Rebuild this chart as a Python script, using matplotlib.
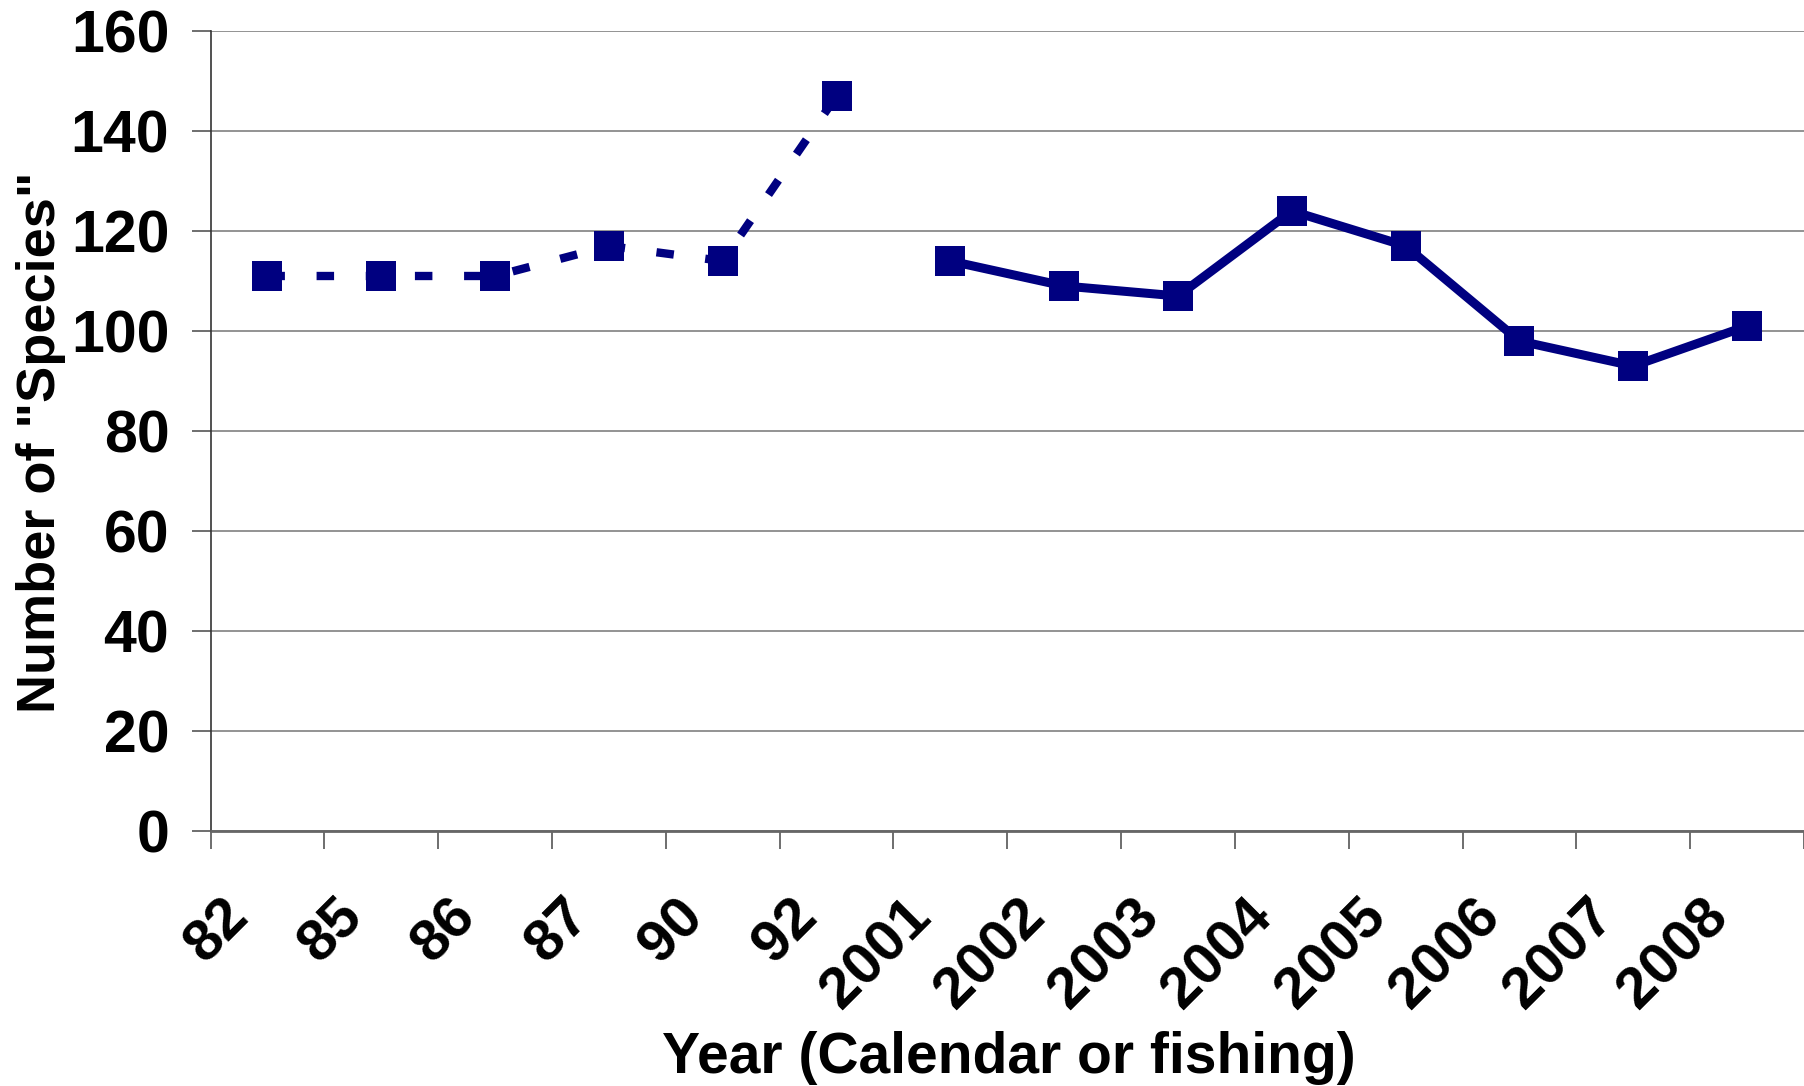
import matplotlib
matplotlib.use("Agg")
import matplotlib.pyplot as plt
import matplotlib.transforms as mtransforms

plt.rcParams['font.family'] = ['Liberation Sans', 'DejaVu Sans']
plt.rcParams['font.weight'] = 'bold'

# survey labels: early surveys (two-digit years) then calendar/fishing years
years = ["82", "85", "86", "87", "90", "92",
         "2001", "2002", "2003", "2004", "2005", "2006", "2007", "2008"]
species_early = [111, 111, 111, 117, 114, 147]
species_recent = [114, 109, 107, 124, 117, 98, 93, 101]
y_ticks = [0, 20, 40, 60, 80, 100, 120, 140, 160]

navy = "#000080"
W, H = 1804, 1086

fig = plt.figure(figsize=(W / 100, H / 100), dpi=100)
ax = fig.add_axes([210.5 / W, 1 - 831 / H, (W - 210.5) / W, 800 / H])

x_early = list(range(len(species_early)))
x_recent = list(range(len(species_early), len(years)))

ax.plot(x_early, species_early, color=navy, lw=6, dashes=(2.1, 3.8),
        dash_capstyle='butt', marker='s', ms=22, mew=0, zorder=3, clip_on=False)
ax.plot(x_recent, species_recent, color=navy, lw=6.5, marker='s', ms=22,
        mew=0, zorder=3, clip_on=False)

ax.set_xlim(-0.5, len(years) - 0.5)
ax.set_ylim(0, 160)

# y axis
ax.set_yticks(y_ticks)
ax.set_yticklabels([str(v) for v in y_ticks])
ax.tick_params(axis='y', length=13.7, width=1.2, color='#555555', pad=16,
               labelsize=42.5)
ax.yaxis.grid(True, color='#808080', lw=1.2)
ax.set_axisbelow(True)

# x axis: tick marks between categories, labels placed under each category
ax.set_xticks([i - 0.5 for i in range(len(years) + 1)])
ax.set_xticklabels([])
ax.tick_params(axis='x', length=12.7, width=1.2, color='#555555')

lbl_trans = ax.get_xaxis_transform() + mtransforms.ScaledTranslation(
    -0.17, -0.88, fig.dpi_scale_trans)
for i, yr in enumerate(years):
    ax.text(i, 0, yr, transform=lbl_trans, rotation=45, rotation_mode='anchor',
            ha='right', va='baseline', fontsize=42, fontweight='bold')

for side in ['top', 'right']:
    ax.spines[side].set_visible(False)
ax.spines['left'].set_color('#333333')
ax.spines['left'].set_linewidth(1.2)
ax.spines['bottom'].set_color('#666666')
ax.spines['bottom'].set_linewidth(2)

fig.text(1008.5 / W, 1 - 1073 / H, "Year (Calendar or fishing)", ha='center',
         va='baseline', fontsize=41, fontweight='bold')
fig.text(55 / W, 1 - 442.5 / H, 'Number of "Species"', rotation=90,
         rotation_mode='anchor', ha='center', va='baseline', fontsize=39,
         fontweight='bold')

fig.savefig("out.png", dpi=100)
